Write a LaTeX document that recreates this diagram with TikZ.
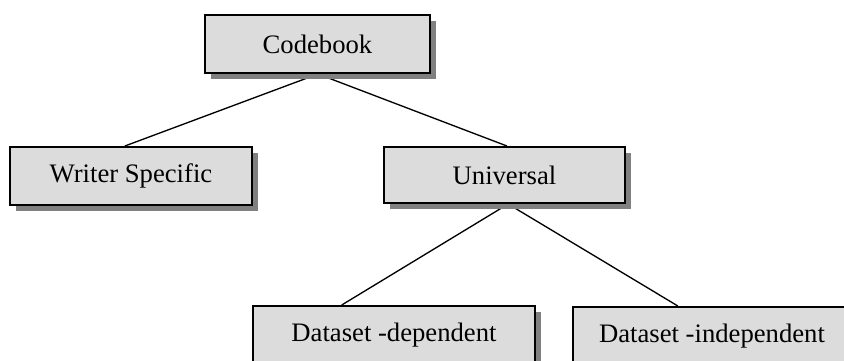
\documentclass[tikz,border=0pt]{standalone}
\usepackage{fontspec}
\setmainfont{Liberation Serif}
\usetikzlibrary{shadows,calc,backgrounds}
\definecolor{boxfill}{HTML}{DCDCDC}
\definecolor{shadowgray}{HTML}{808080}
\begin{document}
\begin{tikzpicture}[x=0.75pt,y=-0.75pt,
  box/.style={draw=black, line width=1.5pt, fill=boxfill, inner sep=0pt,
    font=\fontsize{20}{24}\selectfont,
    drop shadow={shadow xshift=4.5pt, shadow yshift=-4.5pt, fill=shadowgray, opacity=1}},
  link/.style={draw=black, line width=1pt}]
\useasboundingbox (0,0) rectangle (844,361);
\begin{scope}
\clip (0,0) rectangle (844,361);
\node[box, minimum width=168.75pt, minimum height=43.5pt] (cb) at (317.5,44) {Codebook};
\node[box, minimum width=181.5pt, minimum height=43.5pt] (ws) at (131,176) {Writer Specific};
\node[box, minimum width=180.75pt, minimum height=42pt] (un) at (504.5,175) {Universal};
\node[box, minimum width=211.5pt, minimum height=43.5pt] (dd) at (394,335) {Dataset -dependent};
\node[box, minimum width=208.5pt, minimum height=43.5pt] (di) at (712,336) {Dataset -independent};
\end{scope}
\begin{scope}[on background layer]
\draw[link] ($(cb.south west)!0.502!(cb.south east)$) -- ($(ws.north west)!0.475!(ws.north east)$);
\draw[link] ($(cb.south west)!0.502!(cb.south east)$) -- ($(un.north west)!0.51!(un.north east)$);
\draw[link] ($(un.south west)!0.515!(un.south east)$) -- ($(dd.north west)!0.316!(dd.north east)$);
\draw[link] ($(un.south west)!0.515!(un.south east)$) -- ($(di.north west)!0.378!(di.north east)$);
\end{scope}
\end{tikzpicture}
\end{document}
